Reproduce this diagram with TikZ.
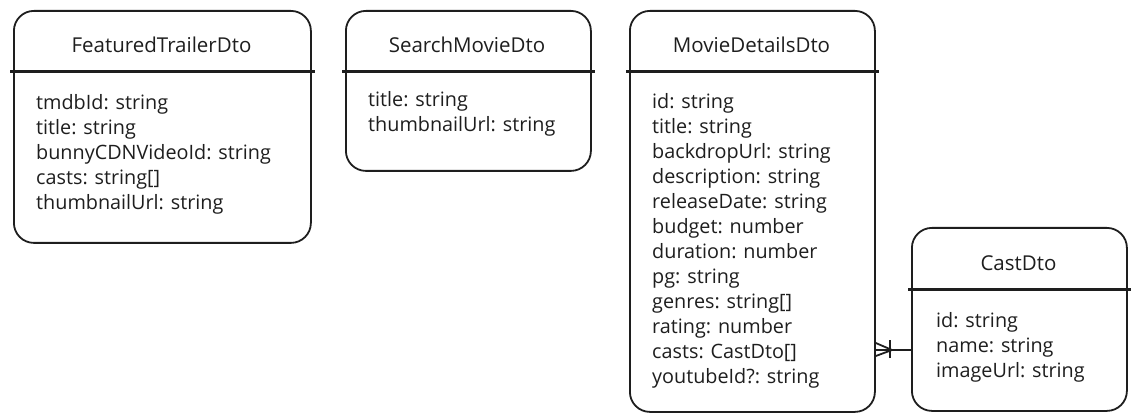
\documentclass[tikz,border=0pt]{standalone}
\usepackage{fontspec}
\setmainfont{Open Sans}
\usetikzlibrary{shapes,arrows}
\definecolor{ink}{HTML}{1E1E1E}
\tikzset{
  dtobox/.style={draw=ink, line width=1.8pt, rounded corners=20pt, anchor=north west, inner sep=0pt},
  dtotitle/.style={text=ink, font=\fontsize{20.5}{25}\selectfont},
  dtofields/.style={text=ink, font=\fontsize{19.8}{25}\selectfont, align=left, anchor=north west, inner sep=0pt},
  divider/.style={draw=ink, line width=3pt},
  link/.style={draw=ink, line width=1.8pt}
}
\begin{document}
\begin{tikzpicture}[x=1pt,y=-1pt]
\useasboundingbox (0,0) rectangle (1139,419);
\node[dtobox, minimum width=297pt, minimum height=232pt] (featured) at (13,10) {};
\node[dtobox, minimum width=245pt, minimum height=160pt] (search) at (345,10) {};
\node[dtobox, minimum width=245pt, minimum height=401pt] (details) at (629,10) {};
\node[dtobox, minimum width=215pt, minimum height=183pt] (cast) at (911,227) {};
\node[dtotitle] (featuredtitle) at (161.5,45) {FeaturedTrailerDto};
\node[dtotitle] (searchtitle) at (467,45) {SearchMovieDto};
\node[dtotitle] (detailstitle) at (751.5,45) {MovieDetailsDto};
\node[dtotitle] (casttitle) at (1018.5,263) {CastDto};
\draw[divider] ([xshift=-3pt]featured.west |- 0,72) -- ([xshift=3pt]featured.east |- 0,72);
\draw[divider] ([xshift=-3pt]search.west |- 0,72) -- ([xshift=3pt]search.east |- 0,72);
\draw[divider] ([xshift=-3pt]details.west |- 0,72) -- ([xshift=3pt]details.east |- 0,72);
\draw[divider] ([xshift=-3pt]cast.west |- 0,290) -- ([xshift=3pt]cast.east |- 0,290);
\node[dtofields] (featuredfields) at (36,94) {tmdbId: string\\title: string\\bunnyCDNVideoId: string\\casts: string[]\\thumbnailUrl: string};
\node[dtofields] (searchfields) at (368,91) {title: string\\thumbnailUrl: string};
\node[dtofields] (detailsfields) at (652,93) {id: string\\title: string\\backdropUrl: string\\description: string\\releaseDate: string\\budget: number\\duration: number\\pg: string\\genres: string[]\\rating: number\\casts: CastDto[]\\youtubeId?: string};
\node[dtofields] (castfields) at (936,312) {id: string\\name: string\\imageUrl: string};
\coordinate (crow) at (892,350);
\draw[link] (cast.west |- crow) -- (details.east |- crow);
\draw[link] ([yshift=-6pt]details.east |- crow) -- (crow) -- ([yshift=7pt]details.east |- crow);
\draw[link] ([xshift=-2pt,yshift=-8pt]crow) -- ([xshift=-2pt,yshift=10pt]crow);
\end{tikzpicture}
\end{document}
